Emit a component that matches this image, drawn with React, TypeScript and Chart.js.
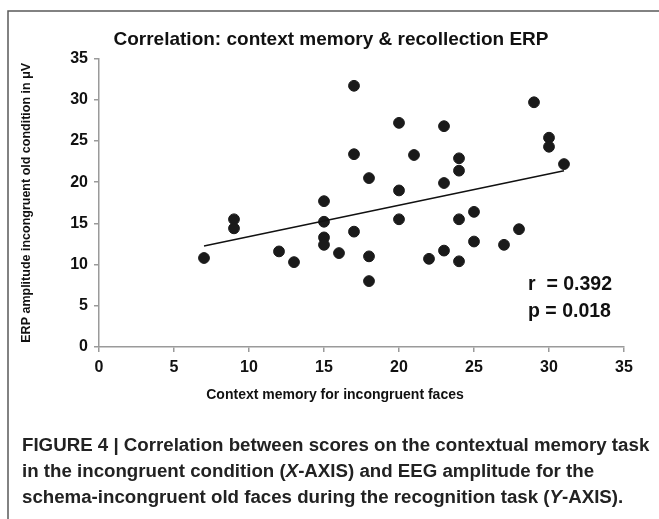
import React, { useEffect, useRef } from "react";
import { Chart, registerables } from "chart.js";

Chart.register(...registerables);

const contextMemory = [7, 9, 9, 12, 13, 15, 15, 15, 15, 16, 17, 17, 17, 18, 18, 18, 20, 20, 20, 21, 22, 23, 23, 23, 24, 24, 24, 24, 25, 25, 27, 28, 29, 30, 30, 31];
const erpAmplitude = [10.8, 15.5, 14.4, 11.6, 10.3, 17.7, 15.2, 13.3, 12.4, 11.4, 31.7, 23.4, 14.0, 20.5, 11.0, 8.0, 27.2, 19.0, 15.5, 23.3, 10.7, 26.8, 19.9, 11.7, 22.9, 21.4, 15.5, 10.4, 16.4, 12.8, 12.4, 14.3, 29.7, 25.4, 24.3, 22.2];
const trendX = [7, 31];
const trendY = [12.26, 21.4];
const xTickValues = [0, 5, 10, 15, 20, 25, 30, 35];
const yTickValues = [0, 5, 10, 15, 20, 25, 30, 35];

const chartTitle = "Correlation: context memory & recollection ERP";
const xAxisTitle = "Context memory for incongruent faces";
const yAxisTitle = "ERP amplitude incongruent old condition in \u03bcV";
const statLines = ["r  = 0.392", "p = 0.018"];

const FONT = "'Liberation Sans', Arial, Helvetica, sans-serif";

const decorPlugin = {
  id: "decor",
  afterDraw(chart: any) {
    const ctx = chart.ctx;
    ctx.save();
    // frame
    ctx.strokeStyle = "#5a5a5a";
    ctx.lineWidth = 1.5;
    ctx.beginPath();
    ctx.moveTo(8, 519);
    ctx.lineTo(8, 11);
    ctx.lineTo(659, 11);
    ctx.stroke();
    // title
    ctx.fillStyle = "#111";
    ctx.font = `bold 19px ${FONT}`;
    ctx.textAlign = "center";
    ctx.textBaseline = "middle";
    ctx.fillText(chartTitle, 331, 40);
    // x axis title
    ctx.font = `bold 14px ${FONT}`;
    ctx.fillText(xAxisTitle, 335, 395);
    // stats
    ctx.font = `bold 19.5px ${FONT}`;
    ctx.textAlign = "left";
    ctx.fillText(statLines[0], 528, 285);
    ctx.fillText(statLines[1], 528, 312);
    ctx.restore();
  },
};

export default function App() {
  const canvasRef = useRef<HTMLCanvasElement | null>(null);

  useEffect(() => {
    document.body.style.margin = "0";
    const canvas = canvasRef.current;
    if (!canvas) return;
    const points = contextMemory.map((x, i) => ({ x, y: erpAmplitude[i] }));
    const trend = trendX.map((x, i) => ({ x, y: trendY[i] }));
    const chart = new Chart(canvas, {
      type: "scatter",
      data: {
        datasets: [
          {
            type: "line",
            data: trend,
            borderColor: "#111",
            borderWidth: 1.5,
            pointRadius: 0,
            fill: false,
          },
          {
            data: points,
            backgroundColor: "#1a1a1a",
            borderColor: "#1a1a1a",
            pointRadius: 5.4,
            pointHoverRadius: 5.4,
          },
        ],
      },
      options: {
        responsive: false,
        animation: false,
        events: [],
        layout: { padding: { left: 8, top: 58.6, right: 35, bottom: 117 } },
        plugins: { legend: { display: false }, tooltip: { enabled: false }, title: { display: false } },
        scales: {
          x: {
            type: "linear",
            min: 0,
            max: 35,
            afterBuildTicks: (scale: any) => {
              scale.ticks = xTickValues.map((v) => ({ value: v }));
            },
            afterFit: (scale: any) => {
              scale.height = 55;
            },
            grid: { drawOnChartArea: false, drawTicks: true, tickLength: 5, color: "#9a9a9a", lineWidth: 1.5 },
            border: { color: "#9a9a9a", width: 1.5 },
            ticks: { color: "#111", padding: 6, font: { family: FONT, size: 16, weight: "bold" }, maxRotation: 0 },
            title: { display: false },
          },
          y: {
            type: "linear",
            min: 0,
            max: 35,
            afterBuildTicks: (scale: any) => {
              scale.ticks = yTickValues.map((v) => ({ value: v }));
            },
            afterFit: (scale: any) => {
              scale.width = 91;
            },
            grid: { drawOnChartArea: false, drawTicks: true, tickLength: 5, color: "#9a9a9a", lineWidth: 1.5 },
            border: { color: "#9a9a9a", width: 1.5 },
            ticks: { color: "#111", padding: 6, font: { family: FONT, size: 16, weight: "bold" } },
            title: { display: true, text: yAxisTitle, color: "#111", padding: { top: 11, bottom: 0 }, font: { family: FONT, size: 12.5, weight: "bold" } },
          },
        },
      },
      plugins: [decorPlugin],
    } as any);
    return () => chart.destroy();
  }, []);

  const captionStyle: React.CSSProperties = {
    position: "absolute",
    left: 22,
    top: 432,
    fontFamily: FONT,
    fontWeight: "bold",
    fontSize: 18.7,
    lineHeight: "26px",
    color: "#222",
    whiteSpace: "nowrap",
  };

  return (
    <div style={{ position: "relative", width: 659, height: 519, background: "#fff", overflow: "hidden" }}>
      <canvas ref={canvasRef} width={659} height={519} style={{ position: "absolute", left: 0, top: 0, width: 659, height: 519 }} />
      <div style={captionStyle}>
        <div>FIGURE 4 | Correlation between scores on the contextual memory task</div>
        <div>
          in the incongruent condition (<i>X</i>-AXIS) and EEG amplitude for the
        </div>
        <div>
          schema-incongruent old faces during the recognition task (<i>Y</i>-AXIS).
        </div>
      </div>
    </div>
  );
}
